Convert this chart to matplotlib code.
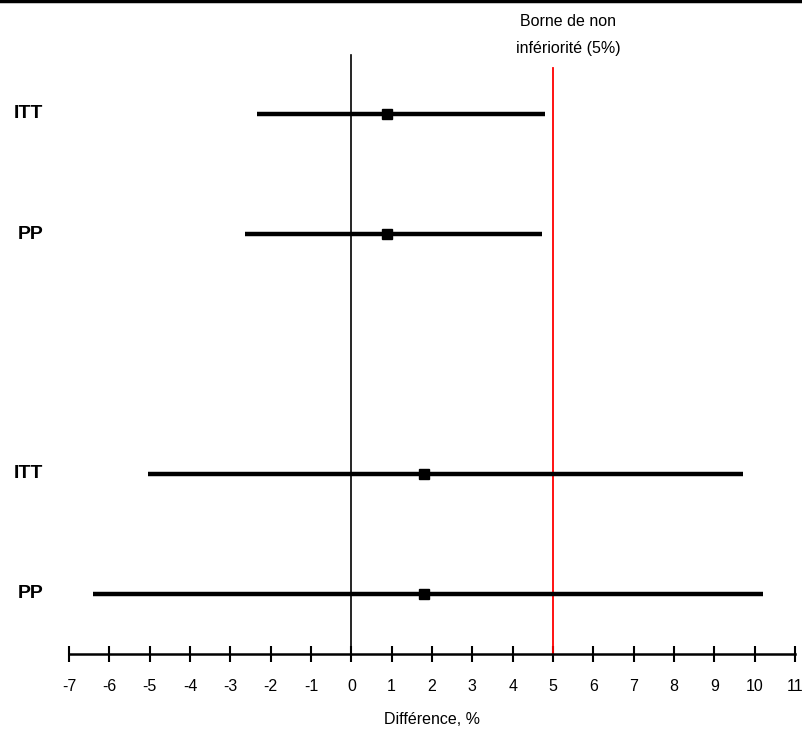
import matplotlib.pyplot as plt
from matplotlib.lines import Line2D
from matplotlib.transforms import blended_transform_factory

plt.rcParams['font.family'] = ['Liberation Sans', 'DejaVu Sans']
plt.rcParams['axes.unicode_minus'] = False

# --- data: differences in % with confidence interval ---
labels = ['ITT', 'PP', 'ITT', 'PP']
ypos = [4, 3, 1, 0]
estimate = [0.88, 0.88, 1.79, 1.79]
ci_low = [-2.34, -2.64, -5.03, -6.40]
ci_high = [4.81, 4.72, 9.71, 10.21]
margin = 5
ticks = list(range(-7, 12))

fig = plt.figure(figsize=(8.03, 7.33), dpi=100)
ax = fig.add_axes([69 / 803, (733 - 654) / 733, (795 - 69) / 803, 654 / 733])

for y, m, lo, hi in zip(ypos, estimate, ci_low, ci_high):
    ax.plot([lo, hi], [y, y], color='black', lw=3.2, solid_capstyle='butt', zorder=3)
    ax.plot(m, y, 's', color='black', ms=7.5, zorder=4)

ax.plot([0, 0], [-0.5, 4.49], color='black', lw=1.2, zorder=2)
ax.plot([margin, margin], [-0.5, 4.38], color='red', lw=1.3, zorder=2)

ax.set_xlim(-7, 11)
ax.set_ylim(-0.5, 4.95)
for s in ['top', 'right', 'left']:
    ax.spines[s].set_visible(False)
ax.spines['bottom'].set_linewidth(1.8)
ax.set_yticks([])
ax.set_xticks(ticks)
ax.tick_params(axis='x', direction='inout', length=12, width=1.5, pad=12, labelsize=11.5)
ax.set_xlabel('Différence, %', fontsize=11.5, labelpad=13)

# row labels on the left
tr = blended_transform_factory(fig.transFigure, ax.transData)
xs = {'ITT': 14 / 803, 'PP': 18 / 803}
for lab, y in zip(labels, ypos):
    ax.text(xs[lab], y, lab, transform=tr, fontsize=14, fontweight='bold',
            ha='left', va='center')

ax.text(margin + 0.37, 4.77, 'Borne de non', ha='center', va='center', fontsize=11.5)
ax.text(margin + 0.37, 4.55, 'infériorité (5%)', ha='center', va='center', fontsize=11.5)

fig.add_artist(Line2D([0, 1], [0.998, 0.998], transform=fig.transFigure,
                      color='black', lw=2.5))

fig.savefig('out.png', dpi=100)
